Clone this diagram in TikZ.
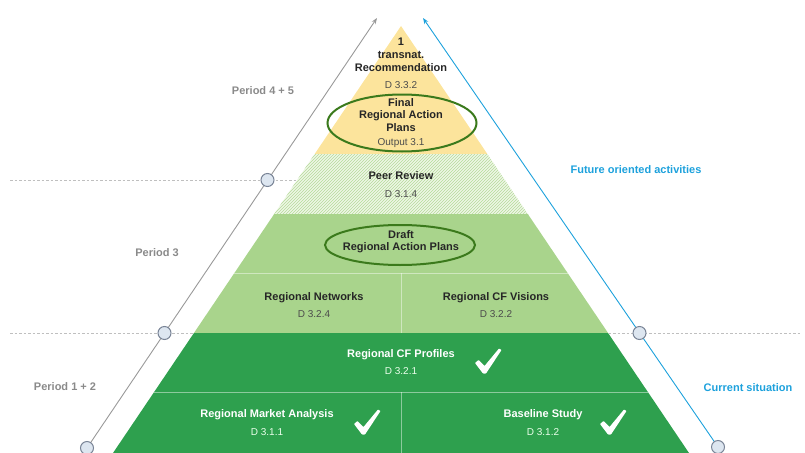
\documentclass[tikz,border=0pt]{standalone}
\usepackage{fontspec}
\setmainfont{Liberation Sans}
\usetikzlibrary{arrows.meta}
\usetikzlibrary{patterns}
\usetikzlibrary{shapes.geometric}

\definecolor{pyryellow}{HTML}{FCE49C}
\definecolor{pyrlight}{HTML}{A9D48C}
\definecolor{pyrhatch}{HTML}{B5DA9A}
\definecolor{hatchbg}{HTML}{EEF7E6}
\definecolor{pyrdark}{HTML}{2EA04E}
\definecolor{ringgreen}{HTML}{3B7A1C}
\definecolor{futureblue}{HTML}{1DA1DC}
\definecolor{periodgray}{HTML}{8A8A8A}
\definecolor{ringfill}{HTML}{DDE6F0}
\definecolor{ringdraw}{HTML}{7A8597}

\tikzset{
    title/.style={font=\fontsize{11}{13}\selectfont\bfseries, align=center, inner sep=0pt, text=black!85},
    code/.style={font=\fontsize{10}{11}\selectfont, inner sep=0pt, text=black!70},
    whitetitle/.style={title, text=white},
    whitecode/.style={code, text=white!92!green},
    plan/.style={ellipse, draw=ringgreen, line width=2pt},
    period/.style={font=\fontsize{11}{12}\selectfont\bfseries, text=periodgray, inner sep=0pt},
    side/.style={font=\fontsize{11}{12}\selectfont\bfseries, text=futureblue, inner sep=0pt},
    ring/.style={circle, fill=ringfill, draw=ringdraw, line width=1pt, minimum size=13pt, inner sep=0pt},
    sep/.style={white, opacity=0.45, line width=1pt},
    guide/.style={draw=black!25, line width=0.5pt, dash pattern=on 2.5pt off 2pt}
}

% white check mark drawn round a named coordinate
\newcommand{\tickmark}[1]{%
    \fill[white, rounded corners=0.6pt, shift={(#1)}]
        (-13,2) -- (-9.5,-1) -- (-3.5,5) -- (11,-12.5) -- (13.5,-11) -- (-2,12.5) -- (-5,12.5) -- cycle;}

\begin{document}
\begin{tikzpicture}[x=1pt, y=-1pt]
    \useasboundingbox (0,0) rectangle (805,452);

    % time lines behind the pyramid
    \draw[guide] (10,180) -- (320,180);
    \draw[guide] (10,333) -- (800,333);

    % pyramid
    \coordinate (apex) at (401,26);
    \coordinate (bl) at (113,453);
    \coordinate (br) at (689,453);
    \begin{scope}
        \clip (apex) -- (bl) -- (br) -- cycle;
        \fill[pyryellow] (0,0) rectangle (805,154);
        \fill[hatchbg] (0,154) rectangle (805,214);
        \fill[pattern=north east lines, pattern color=pyrhatch] (0,154) rectangle (805,214);
        \fill[pyrlight] (0,214) rectangle (805,333);
        \fill[pyrdark] (0,333) rectangle (805,453);
        \draw[sep] (0,273) -- (805,273);
        \draw[sep] (0,392) -- (805,392);
        \draw[sep] (401,273) -- (401,333);
        \draw[sep] (401,392) -- (401,453);
    \end{scope}

    % top
    \node[title] (rec) at (401,55) {1\\transnat.\\Recommendation};
    \node[code] (rec code) at (401,85) {D 3.3.2};
    \node[plan, minimum width=149pt, minimum height=57pt] (final ring) at (402,123) {};
    \node[title, font=\fontsize{11}{12.5}\selectfont\bfseries] (final) at (401,115) {Final\\Regional Action\\Plans};
    \node[code] (final code) at (401,143) {Output 3.1};

    % period 3
    \node[title] (peer) at (401,176) {Peer Review};
    \node[code] (peer code) at (401,194) {D 3.1.4};
    \node[plan, minimum width=150pt, minimum height=40pt] (draft ring) at (400,245) {};
    \node[title, font=\fontsize{11}{12}\selectfont\bfseries] (draft) at (401,242) {Draft\\Regional Action Plans};
    \node[title] (networks) at (314,298) {Regional Networks};
    \node[code] (networks code) at (314,314) {D 3.2.4};
    \node[title] (visions) at (496,298) {Regional CF Visions};
    \node[code] (visions code) at (496,314) {D 3.2.2};

    % period 1 + 2
    \node[whitetitle] (profiles) at (401,355) {Regional CF Profiles};
    \node[whitecode] (profiles code) at (401,371) {D 3.2.1};
    \coordinate (profiles tick) at (488,361);
    \tickmark{profiles tick}
    \node[whitetitle] (market) at (267,415) {Regional Market Analysis};
    \node[whitecode] (market code) at (267,432) {D 3.1.1};
    \coordinate (market tick) at (367,422);
    \tickmark{market tick}
    \node[whitetitle] (baseline) at (543,415) {Baseline Study};
    \node[whitecode] (baseline code) at (543,432) {D 3.1.2};
    \coordinate (baseline tick) at (613,422);
    \tickmark{baseline tick}

    % time axis (left) and orientation axis (right)
    \coordinate (gray start) at (87,448);
    \coordinate (gray tip) at (377,18);
    \coordinate (blue start) at (718,447);
    \coordinate (blue tip) at (423,18);
    \draw[black!40, line width=0.9pt, -{Stealth[length=6pt, width=4.5pt]}] (gray start) -- (gray tip);
    \draw[futureblue, line width=0.9pt, -{Stealth[length=6pt, width=4.5pt]}] (blue start) -- (blue tip);
    \node[ring] (g1) at (gray start) {};
    \node[ring] (g2) at (164.5,333) {};
    \node[ring] (g3) at (267.5,180) {};
    \node[ring] (b1) at (blue start) {};
    \node[ring] (b2) at (639.5,333) {};

    \node[period] (p45) at (263,91) {Period 4 + 5};
    \node[period] (p3) at (157,253) {Period 3};
    \node[period] (p12) at (65,387) {Period 1 + 2};
    \node[side] (future) at (636,170) {Future oriented activities};
    \node[side] (current) at (748,388) {Current situation};
\end{tikzpicture}
\end{document}
